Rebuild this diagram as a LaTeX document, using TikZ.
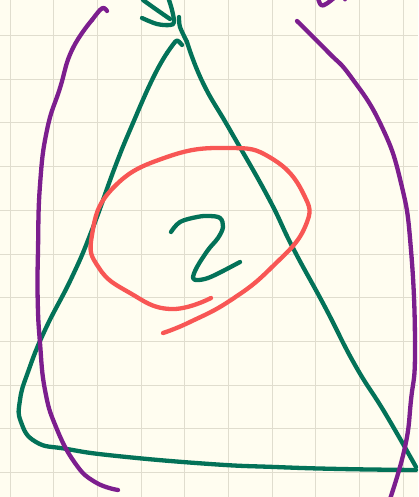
\documentclass[tikz,border=0pt]{standalone}
\definecolor{paper}{RGB}{255,253,240}
\definecolor{gridc}{RGB}{224,221,206}
\definecolor{inkgreen}{RGB}{3,114,88}
\definecolor{inkpurple}{RGB}{124,30,142}
\definecolor{inkred}{RGB}{248,86,84}
\tikzset{pen/.style={line width=4.3pt,line cap=round,line join=round},
 gridline/.style={draw=gridc,line width=1pt}}
\begin{document}
\begin{tikzpicture}[x=1pt,y=-1pt]
\fill[paper] (0,0) rectangle (418,497);
\useasboundingbox (0,0) rectangle (418,497);
\foreach \g in {10.3,53.7,97.3,141,184.7,228.3,272,315.7,359.4,403} \draw[gridline] (\g,0) -- (\g,497);
\foreach \g in {35.7,79.3,123,166.7,210.3,254,297.7,341.3,385,428.7,472.3} \draw[gridline] (0,\g) -- (418,\g);
% green triangle
\draw[pen,inkgreen] plot[smooth,tension=0.5] coordinates {(179,17)(180,27)(187,42)};
\draw[pen,inkgreen] plot[smooth,tension=0.8] coordinates {(187,42)(203,83)(230,130)(268,197)(293,248)(325,307)(355,365)(385,413)(416,467)};
\draw[pen,inkgreen] plot[smooth,tension=0.8] coordinates {(416,470)(341,469)(275,467)(210,464)(117,456)(67,449)(36,442)(21,422)(20,400)(28,372)(45,330)(72,277)(92,230)(115,167)(133,123)(153,78)(167,53)};
\draw[pen,inkgreen] plot[smooth,tension=0.6] coordinates {(167,53)(175,42)(178,41)(182,45)};
\draw[pen,inkgreen] plot[smooth,tension=0.7] coordinates {(143,0)(157,10)(170,19)};
\draw[pen,inkgreen] plot[smooth,tension=0.6] coordinates {(142,18)(157,24)(170,25)(174,22)(172,10)(169,0)};
% number
\draw[pen,inkgreen] plot[smooth,tension=0.6] coordinates {(171,232)(180,222)(197,217)(209,216)(220,218)(223,227)(218,238)(208,250)(197,267)(193,278)(198,280)(208,278)(221,272)(240,262)};
% red loop
\draw[pen,inkred] plot[smooth,tension=0.8] coordinates {(211,298)(170,309)(130,293)(99,268)(92,235)(113,188)(167,157)(228,148)(271,158)(303,193)(305,227)(271,268)(231,300)(190,322)(163,333)};
% purple brackets
\draw[pen,inkpurple] plot[smooth,tension=0.6] coordinates {(107,11)(104,8)(100,10)(92,20)};
\draw[pen,inkpurple] plot[smooth,tension=0.8] coordinates {(92,20)(72,50)(60,88)(47,130)(40,185)(38,250)(37.7,300)(40,343)(45,390)(56,427)(75,463)(95,482)(118,490)};
\draw[pen,inkpurple] plot[smooth,tension=0.8] coordinates {(297,21)(328,52)(351,77)(381,125)(401,183)(411,250)(415,350)(411,400)(405,447)(390,499)};
\draw[pen,inkpurple] plot[smooth,tension=0.7] coordinates {(318,-2)(321,5)(326,4)(334,-2)};
\fill[inkpurple] (345,-0.5) circle (2pt);
\end{tikzpicture}
\end{document}
